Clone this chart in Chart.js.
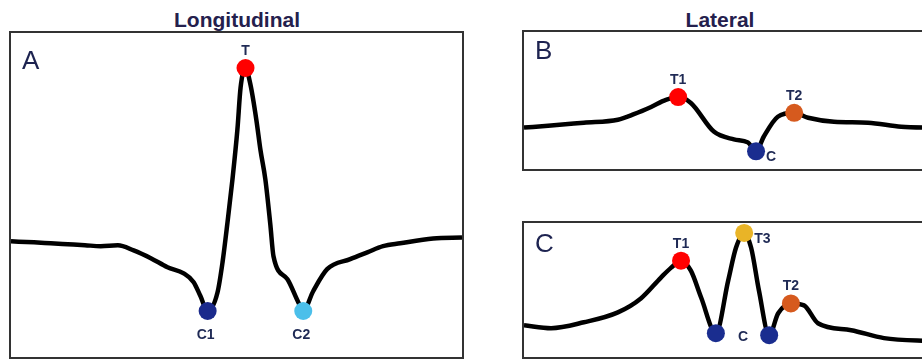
<!DOCTYPE html>
<html>
<head>
<meta charset="utf-8">
<script src="https://cdn.jsdelivr.net/npm/chart.js@4.4.1/dist/chart.umd.min.js"></script>
<style>
    html, body { margin: 0; padding: 0; background: #fff; }
    body { width: 922px; height: 360px; position: relative; overflow: hidden; font-family: "Liberation Sans", Arial, sans-serif; }
    .title { position: absolute; top: 8px; font-size: 21px; font-weight: bold; color: #24204d; transform: translateX(-50%); white-space: nowrap; }
    .panel { position: absolute; box-sizing: border-box; border: 2px solid #333; }
    .panel canvas { display: block; }
    .letter { position: absolute; font-size: 26px; color: #1d2350; line-height: 1; }
</style>
</head>
<body>
<div class="title" style="left:237px;">Longitudinal</div>
<div class="title" style="left:720px;">Lateral</div>

<div class="panel" style="left:9px; top:31px; width:455px; height:328px;">
    <canvas id="chartA" width="451" height="324"></canvas>
</div>
<div class="panel" style="left:522px; top:30px; width:414px; height:141px;">
    <canvas id="chartB" width="410" height="137"></canvas>
</div>
<div class="panel" style="left:522px; top:221px; width:414px; height:138px;">
    <canvas id="chartC" width="410" height="134"></canvas>
</div>

<div class="letter" style="left:22px; top:47px;">A</div>
<div class="letter" style="left:535px; top:37px;">B</div>
<div class="letter" style="left:535px; top:230px;">C</div>

<script>
// Panel A - longitudinal trace (x: position %, y: signal %)
const aX = [0, 5.1, 8.8, 12.6, 16.4, 19.9, 23.7, 27.2, 31.0, 34.7, 38.3, 40.5, 42.0, 43.6,
    45.8, 46.9, 48.0, 49.1, 50.2, 50.9, 52.0, 53.1, 54.4, 55.3, 56.4, 57.5, 58.2, 61.3,
    63.7, 64.8, 67.0, 70.1, 75.2, 79.0, 82.5, 86.3, 93.6, 100];
const aY = [35.7, 35.4, 35.1, 34.8, 34.5, 34.2, 34.5, 32.9, 30.5, 27.7, 25.8, 23.1, 18.8, 14.2,
    20.0, 29.2, 41.5, 54.8, 70.2, 83.1, 89.2, 84.0, 73.2, 64.0, 54.8, 40.9, 31.1, 24.0,
    16.9, 14.2, 20.3, 27.1, 30.2, 32.3, 34.2, 35.1, 36.6, 36.9];
const aMarkX = [52.0, 43.6, 64.8];
const aMarkY = [89.2, 14.2, 14.2];
const aMarkLabels = ['T', 'C1', 'C2'];
const aMarkColors = ['#ff0000', '#1b2a8c', '#4bbfea'];

// Panel B - lateral trace
const bX = [0, 6.6, 14.6, 22.9, 26.8, 31.0, 34.6, 37.6, 40.7, 46.3, 51.2, 54.6, 56.6,
    58.5, 61.9, 65.9, 69.3, 75.6, 83.9, 92.0, 100];
const bY = [30.2, 31.7, 33.8, 36.0, 40.0, 45.3, 50.4, 52.5, 48.2, 27.3, 21.6, 19.4, 12.9,
    23.7, 38.1, 41.0, 37.4, 34.5, 33.8, 30.9, 30.2];
const bMarkX = [37.6, 56.6, 65.9];
const bMarkY = [52.5, 12.9, 41.0];
const bMarkLabels = ['T1', 'C', 'T2'];
const bMarkColors = ['#ff0000', '#1a2d8f', '#d65a1e'];

// Panel C - lateral trace with third peak
const cX = [0, 6.6, 14.6, 22.9, 28.5, 33.4, 35.9, 38.3, 40.7, 43.2, 46.8, 49.8, 51.7,
    53.7, 55.4, 57.3, 59.8, 62.0, 65.1, 68.3, 71.7, 79.8, 87.8, 100];
const cY = [23.7, 21.5, 25.9, 33.3, 43.7, 59.3, 66.7, 71.9, 64.4, 44.4, 17.8, 57.0, 81.5,
    92.6, 81.5, 49.6, 16.3, 32.6, 40.0, 38.5, 25.2, 20.0, 14.1, 11.9];
const cMarkX = [38.3, 53.7, 46.8, 59.8, 65.1];
const cMarkY = [71.9, 92.6, 17.8, 16.3, 40.0];
const cMarkLabels = ['T1', 'T3', '', '', 'T2'];
const cMarkColors = ['#ff0000', '#e9b427', '#1a2d8f', '#1a2d8f', '#d65a1e'];

const toPoints = (xs, ys) => xs.map((x, i) => ({ x: x, y: ys[i] }));

/**
 * Draw point names next to the marks
 */
const markLabelPlugin = {
    id: 'markLabels',
    afterDatasetsDraw(chart, args, opts) {
        const ctx = chart.ctx;
        const meta = chart.getDatasetMeta(0);
        ctx.save();
        ctx.font = 'bold 14px "Liberation Sans", Arial, sans-serif';
        ctx.fillStyle = '#1f2a55';
        ctx.textBaseline = 'alphabetic';
        meta.data.forEach((pt, i) => {
            const text = opts.labels[i];
            if (!text) return;
            const side = opts.sides[i];
            if (side === 'above') {
                ctx.textAlign = 'center';
                ctx.fillText(text, pt.x, pt.y - 13);
            } else if (side === 'below') {
                ctx.textAlign = 'center';
                ctx.fillText(text, pt.x - 2, pt.y + 28);
            } else {
                ctx.textAlign = 'left';
                ctx.fillText(text, pt.x + 10, pt.y + 10);
            }
        });
        // free-standing label (panel C, between the two minima)
        if (opts.extra) {
            const xs = chart.scales.x, ys = chart.scales.y;
            ctx.textAlign = 'center';
            ctx.fillText(opts.extra.text, xs.getPixelForValue(opts.extra.x), ys.getPixelForValue(opts.extra.y));
        }
        ctx.restore();
    }
};

function makePanel(id, xs, ys, mx, my, labels, colors, sides, extra) {
    const ctx = document.getElementById(id);
    return new Chart(ctx, {
        type: 'line',
        data: {
            datasets: [
                {
                    data: toPoints(mx, my),
                    showLine: false,
                    pointRadius: 9,
                    pointBackgroundColor: colors,
                    pointBorderColor: colors,
                    pointBorderWidth: 0,
                    clip: false
                },
                {
                    data: toPoints(xs, ys),
                    borderColor: '#000',
                    borderWidth: 4.5,
                    pointRadius: 0,
                    cubicInterpolationMode: 'monotone',
                    fill: false,
                    clip: false
                }
            ]
        },
        options: {
            responsive: false,
            animation: false,
            layout: { padding: 0, autoPadding: false },
            plugins: {
                legend: { display: false },
                tooltip: { enabled: false },
                markLabels: { labels: labels, sides: sides, extra: extra }
            },
            scales: {
                x: { type: 'linear', min: 0, max: 100, display: false },
                y: { type: 'linear', min: 0, max: 100, display: false }
            }
        },
        plugins: [markLabelPlugin]
    });
}

makePanel('chartA', aX, aY, aMarkX, aMarkY, aMarkLabels, aMarkColors,
    ['above', 'below', 'below']);
makePanel('chartB', bX, bY, bMarkX, bMarkY, bMarkLabels, bMarkColors,
    ['above', 'right', 'above']);
makePanel('chartC', cX, cY, cMarkX, cMarkY, cMarkLabels, cMarkColors,
    ['above', 'right', 'none', 'none', 'above'], { text: 'C', x: 53.4, y: 12 });
</script>
</body>
</html>
